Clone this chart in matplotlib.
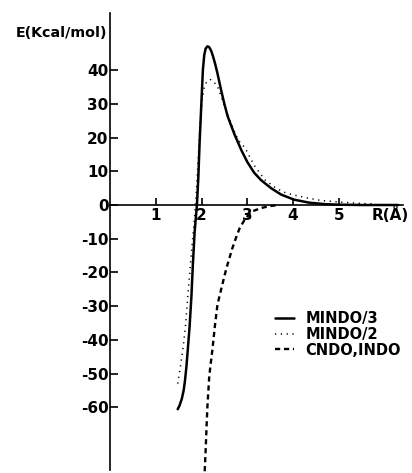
import matplotlib
matplotlib.use("Agg")
import matplotlib.pyplot as plt

# MINDO/3 (solid)
r_mindo3 = [1.48, 1.52, 1.57, 1.61, 1.64, 1.67, 1.70, 1.74, 1.78, 1.81, 1.85, 1.90, 1.93, 1.96,
            1.99, 2.01, 2.03, 2.06, 2.09, 2.13, 2.17, 2.21, 2.25, 2.30, 2.35, 2.43, 2.50, 2.57,
            2.65, 2.72, 2.80, 2.87, 3.00, 3.15, 3.30, 3.52, 3.74, 4.02, 4.35, 4.70, 5.00, 5.50, 6.30]
e_mindo3 = [-60.6, -59.5, -57.5, -55, -52, -48, -43, -36, -27, -18, -8, 0, 8, 19,
            28, 34, 40, 44.5, 46.4, 47.1, 46.8, 45.8, 44.2, 41.8, 39, 34, 30, 26.4,
            23.5, 21, 18.5, 16.3, 12.8, 9.6, 7.4, 5, 3.1, 1.6, 0.7, 0.25, 0.1, 0, 0]

# MINDO/2 (dotted)
r_mindo2 = [1.48, 1.55, 1.60, 1.65, 1.70, 1.75, 1.80, 1.84, 1.88, 1.93, 1.97, 2.01, 2.06, 2.12,
            2.20, 2.34, 2.47, 2.62, 2.80, 2.95, 3.15, 3.39, 3.60, 3.78, 4.00, 4.35, 4.63, 5.00,
            5.43, 5.80]
e_mindo2 = [-53, -47, -42, -36, -27, -19, -11, -5, 2, 14, 24, 31, 35, 36.8,
            37.2, 35.6, 30.6, 25, 19.3, 17, 11.8, 7.4, 5.3, 3.9, 3.0, 2.0, 1.3, 0.9,
            0.5, 0.3]

# CNDO, INDO (dashed)
r_cndo = [2.07, 2.09, 2.11, 2.13, 2.17, 2.24, 2.30, 2.35, 2.43, 2.54, 2.67, 2.76, 2.83, 2.95,
          3.09, 3.30, 3.50, 3.70]
e_cndo = [-79, -73, -66, -59.6, -50.7, -42.7, -35, -29.5, -25, -19, -13, -9.5, -7, -4.2,
          -2, -0.9, -0.3, 0]

y_ticks = [-60, -50, -40, -30, -20, -10, 0, 10, 20, 30, 40]
y_ticklabels = ["-60", "-50", "-40", "-30", "-20", "-10", "0", "10", "20", "30", "40"]
x_ticks = [1, 2, 3, 4, 5]
x_ticklabels = ["1", "2", "3", "4", "5"]

fig = plt.figure(figsize=(4.12, 4.73), dpi=100)
ax = fig.add_axes([0, 0, 1, 1])
px_r = 45.75
px_e = 3.37
ax.set_xlim(-110 / px_r, (412 - 110) / px_r)
ax.set_ylim(-(473 - 205) / px_e, 205 / px_e)

ax.plot(r_mindo3, e_mindo3, color="black", lw=1.8, solid_capstyle="round",
        solid_joinstyle="round", label="MINDO/3")
ax.plot(r_mindo2, e_mindo2, color="black", lw=1.1, linestyle=(0, (0.8, 3.0)), label="MINDO/2")
ax.plot(r_cndo, e_cndo, color="black", lw=1.7, linestyle=(0, (2.2, 1.6)), label="CNDO,INDO")

for s in ["top", "right"]:
    ax.spines[s].set_visible(False)
ax.spines["left"].set_position(("data", 0))
ax.spines["bottom"].set_position(("data", 0))
ax.spines["left"].set_bounds(-78.5, 57)
ax.spines["bottom"].set_bounds(0, 6.4)
ax.spines["left"].set_linewidth(1.2)
ax.spines["bottom"].set_linewidth(1.2)

ax.set_yticks(y_ticks)
ax.set_yticklabels(y_ticklabels, fontsize=11, fontweight="bold")
ax.set_xticks(x_ticks)
ax.set_xticklabels(x_ticklabels, fontsize=11, fontweight="bold")
ax.tick_params(axis="y", direction="in", length=6, width=1.2, pad=1)
ax.tick_params(axis="x", direction="in", length=5, width=1.2, pad=2)

ax.text(-0.05, 51, "E(Kcal/mol)", ha="right", va="center", fontsize=10.3, fontweight="bold")
ax.text(5.72, -2.9, "R(Å)", ha="left", va="center", fontsize=11, fontweight="bold")

ax.legend(loc="upper left", bbox_to_anchor=(0.635, 0.37), frameon=False,
          handlelength=1.3, handletextpad=0.8, labelspacing=0.05,
          prop={"size": 10.5, "weight": "bold"})

fig.savefig("out.png", dpi=100)
